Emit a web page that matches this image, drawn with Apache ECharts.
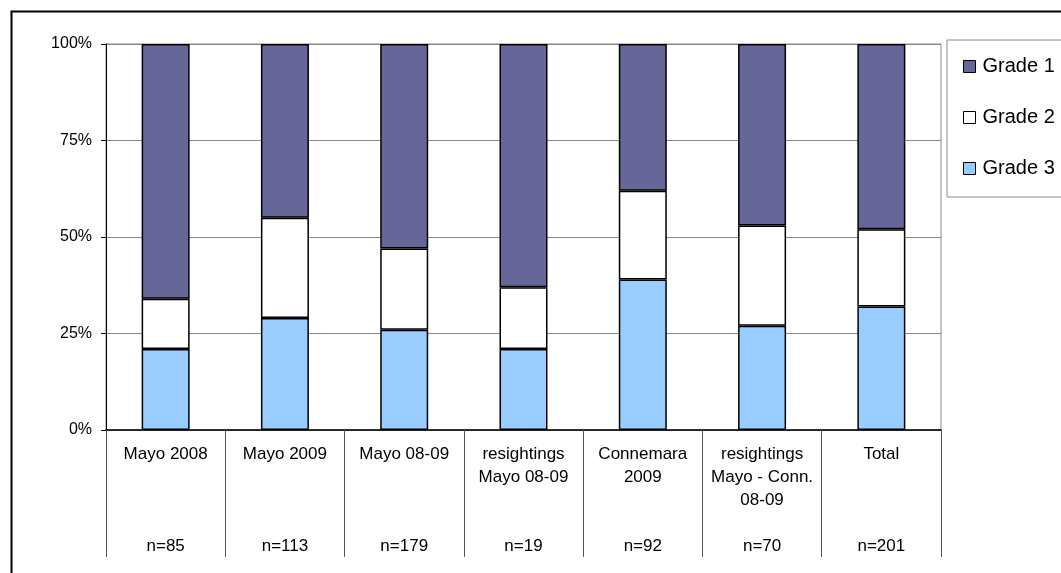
<!DOCTYPE html>
<html>
<head>
<meta charset="utf-8">
<script src="https://cdn.jsdelivr.net/npm/echarts@6/dist/echarts.min.js"></script>
<style>
  html, body { margin: 0; padding: 0; background: #fff; }
  #chart { width: 1061px; height: 573px; }
</style>
</head>
<body>
<div id="chart"></div>
<script>
// Sites / sampling groups (line breaks follow the printed labels)
const categories = [
  'Mayo 2008',
  'Mayo 2009',
  'Mayo 08-09',
  'resightings\nMayo 08-09',
  'Connemara\n2009',
  'resightings\nMayo - Conn.\n08-09',
  'Total'
];
// Sample size per group
const sampleSizes = [85, 113, 179, 19, 92, 70, 201];

// Share of each grade, in percent
const grade1 = [66, 45, 53, 63, 38, 47, 48];
const grade2 = [13, 26, 21, 16, 23, 26, 20];
const grade3 = [21, 29, 26, 21, 39, 27, 32];

const yTicks = [0, 25, 50, 75, 100];

// Category label: name lines on top, "n=" on the fifth line
const axisLabels = categories.map((c, i) => {
  const lines = c.split('\n');
  while (lines.length < 4) lines.push('');
  return lines.join('\n') + '\nn=' + sampleSizes[i];
});

const FONT = '"Liberation Sans", Arial, Helvetica, sans-serif';

const chart = echarts.init(document.getElementById('chart'), null, { renderer: 'canvas' });

const barBase = {
  type: 'bar',
  stack: 'grades',
  barWidth: 48,
  itemStyle: { borderColor: '#000', borderWidth: 1.5 },
  emphasis: { disabled: true }
};

chart.setOption({
  animation: false,
  backgroundColor: '#fff',
  textStyle: { fontFamily: FONT },
  graphic: [{
    type: 'rect',
    left: 9, top: 9,
    shape: { width: 1200, height: 1000 },
    style: { fill: 'none', stroke: '#000', lineWidth: 2 },
    silent: true
  }],
  grid: {
    left: 106, right: 120, top: 44, bottom: 143,
    show: true, borderColor: '#888', borderWidth: 1, backgroundColor: 'transparent'
  },
  legend: {
    data: ['Grade 1', 'Grade 2', 'Grade 3'],
    orient: 'vertical',
    left: 947, top: 40,
    padding: [16, 60, 18, 16],
    borderColor: '#888', borderWidth: 1,
    backgroundColor: '#fff',
    icon: 'rect',
    itemWidth: 12, itemHeight: 12,
    itemGap: 30,
    itemStyle: { borderColor: '#000', borderWidth: 1 },
    textStyle: { fontFamily: FONT, fontSize: 20, color: '#000', lineHeight: 21, padding: [0, 0, 0, 2] },
    selectedMode: false
  },
  xAxis: {
    type: 'category',
    data: axisLabels,
    boundaryGap: true,
    axisLine: { show: true, lineStyle: { color: '#000', width: 1.5 } },
    axisTick: { show: true, interval: 0, length: 127, lineStyle: { color: '#555', width: 1 } },
    axisLabel: {
      interval: 0, margin: 13,
      fontFamily: FONT, fontSize: 17, color: '#000', lineHeight: 23,
      align: 'center', verticalAlign: 'top'
    }
  },
  yAxis: {
    type: 'value',
    min: yTicks[0], max: yTicks[yTicks.length - 1], interval: 25,
    axisLine: { show: true, lineStyle: { color: '#000', width: 1 } },
    axisTick: { show: true, length: 5, lineStyle: { color: '#000' } },
    splitLine: { show: true, lineStyle: { color: '#888', width: 1 } },
    axisLabel: {
      margin: 14, fontFamily: FONT, fontSize: 16, color: '#000',
      formatter: '{value}%'
    }
  },
  series: [
    Object.assign({}, barBase, { name: 'Grade 3', data: grade3, itemStyle: Object.assign({}, barBase.itemStyle, { color: '#99CCFF' }) }),
    Object.assign({}, barBase, { name: 'Grade 2', data: grade2, itemStyle: Object.assign({}, barBase.itemStyle, { color: '#FFFFFF' }) }),
    Object.assign({}, barBase, { name: 'Grade 1', data: grade1, itemStyle: Object.assign({}, barBase.itemStyle, { color: '#666699' }) })
  ]
});
</script>
</body>
</html>
